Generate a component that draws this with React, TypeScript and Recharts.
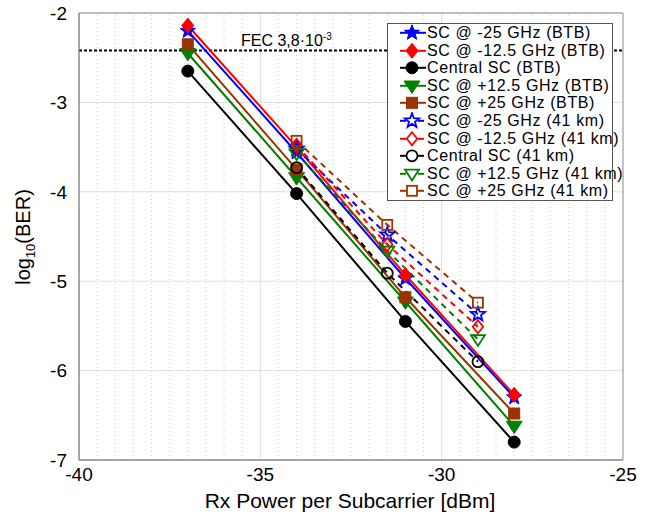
import React from "react";
import {
  LineChart,
  Line,
  XAxis,
  YAxis,
  CartesianGrid,
  ReferenceLine,
  ReferenceArea,
  Legend,
} from "recharts";

// Rx power points (dBm)
const btbPower = [-37, -34, -31, -28];
const kmPower = [-34, -31.5, -29];

// log10(BER), back-to-back
const btbMinus25 = [-2.2, -3.56, -4.97, -6.3];
const btbMinus125 = [-2.14, -3.5, -4.93, -6.27];
const btbCentral = [-2.65, -4.02, -5.45, -6.8];
const btbPlus125 = [-2.45, -3.84, -5.23, -6.62];
const btbPlus25 = [-2.35, -3.75, -5.18, -6.48];

// log10(BER), after 41 km
const kmMinus25 = [-3.52, -4.48, -5.37];
const kmMinus125 = [-3.48, -4.59, -5.51];
const kmCentral = [-3.73, -4.91, -5.9];
const kmPlus125 = [-3.57, -4.66, -5.65];
const kmPlus25 = [-3.43, -4.37, -5.24];

const xTicks = [-40, -35, -30, -25];
const yTicks = [-7, -6, -5, -4, -3, -2];
const minorX = [
  -39.5, -39, -38.5, -38, -37.5, -37, -36.5, -36, -35.5, -34.5, -34, -33.5,
  -33, -32.5, -32, -31.5, -31, -30.5, -29.5, -29, -28.5, -28, -27.5, -27,
  -26.5, -26, -25.5,
];
const fecLevel = Math.log10(3.8e-3);

const BLUE = "#0000ff";
const RED = "#ff0000";
const BLACK = "#000000";
const GREEN = "#008000";
const BROWN = "#993300";

type Shape = "star" | "diamond" | "circle" | "triangle" | "square";

const pts = (xs: number[], ys: number[]) => xs.map((x, i) => ({ x, y: ys[i] }));

const series = [
  { name: "SC @ -25 GHz (BTB)", color: BLUE, shape: "star" as Shape, dashed: false, data: pts(btbPower, btbMinus25) },
  { name: "SC @ -12.5 GHz (BTB)", color: RED, shape: "diamond" as Shape, dashed: false, data: pts(btbPower, btbMinus125) },
  { name: "Central SC (BTB)", color: BLACK, shape: "circle" as Shape, dashed: false, data: pts(btbPower, btbCentral) },
  { name: "SC @ +12.5 GHz (BTB)", color: GREEN, shape: "triangle" as Shape, dashed: false, data: pts(btbPower, btbPlus125) },
  { name: "SC @ +25 GHz (BTB)", color: BROWN, shape: "square" as Shape, dashed: false, data: pts(btbPower, btbPlus25) },
  { name: "SC @ -25 GHz (41 km)", color: BLUE, shape: "star" as Shape, dashed: true, data: pts(kmPower, kmMinus25) },
  { name: "SC @ -12.5 GHz (41 km)", color: RED, shape: "diamond" as Shape, dashed: true, data: pts(kmPower, kmMinus125) },
  { name: "Central SC (41 km)", color: BLACK, shape: "circle" as Shape, dashed: true, data: pts(kmPower, kmCentral) },
  { name: "SC @ +12.5 GHz (41 km)", color: GREEN, shape: "triangle" as Shape, dashed: true, data: pts(kmPower, kmPlus125) },
  { name: "SC @ +25 GHz (41 km)", color: BROWN, shape: "square" as Shape, dashed: true, data: pts(kmPower, kmPlus25) },
];

const Marker = ({ cx, cy, shape, color, filled }: any) => {
  const fill = filled ? color : "none";
  const sw = filled ? 1 : 1.8;
  if (shape === "circle") {
    const r = filled ? 6 : 5.5;
    return <circle cx={cx} cy={cy} r={r} fill={fill} stroke={color} strokeWidth={sw} />;
  }
  if (shape === "square") {
    const h = filled ? 5.5 : 5;
    return <rect x={cx - h} y={cy - h} width={2 * h} height={2 * h} fill={fill} stroke={color} strokeWidth={sw} />;
  }
  if (shape === "diamond") {
    const r = filled ? 7.5 : 6.5;
    const p = `${cx},${cy - r} ${cx + r * 0.8},${cy} ${cx},${cy + r} ${cx - r * 0.8},${cy}`;
    return <polygon points={p} fill={fill} stroke={color} strokeWidth={sw} />;
  }
  if (shape === "triangle") {
    const r = filled ? 8 : 7;
    const p = `${cx - r},${cy - r * 0.6} ${cx + r},${cy - r * 0.6} ${cx},${cy + r * 0.95}`;
    return <polygon points={p} fill={fill} stroke={color} strokeWidth={sw} />;
  }
  const R = filled ? 8 : 7.5;
  const p: string[] = [];
  for (let i = 0; i < 10; i++) {
    const a = (-90 + i * 36) * (Math.PI / 180);
    const rr = i % 2 === 0 ? R : R * 0.42;
    p.push(`${cx + rr * Math.cos(a)},${cy + rr * Math.sin(a)}`);
  }
  return <polygon points={p.join(" ")} fill={fill} stroke={color} strokeWidth={sw} />;
};

const renderLegend = () => (
  <div
    style={{
      border: "1px solid #555",
      background: "#fff",
      width: 226,
      boxSizing: "border-box",
      fontFamily: "'Liberation Sans', Arial, sans-serif",
      fontSize: 16,
      letterSpacing: 0.6,
      color: "#000",
    }}
  >
    {series.map((s) => (
      <div key={s.name} style={{ display: "flex", alignItems: "center", height: 17.6 }}>
        <svg width={39} height={17.6} style={{ flex: "none" }}>
          {s.dashed ? (
            <>
              <line x1={12} y1={8.8} x2={18} y2={8.8} stroke={s.color} strokeWidth={2} />
              <line x1={30} y1={8.8} x2={36} y2={8.8} stroke={s.color} strokeWidth={2} />
            </>
          ) : (
            <line x1={12} y1={8.8} x2={38} y2={8.8} stroke={s.color} strokeWidth={2} />
          )}
          <Marker cx={24} cy={8.8} shape={s.shape} color={s.color} filled={!s.dashed} />
        </svg>
        <span style={{ whiteSpace: "nowrap", lineHeight: "17.6px" }}>{s.name}</span>
      </div>
    ))}
  </div>
);

const FecLabel = ({ viewBox }: any) => (
  <text
    x={viewBox.x + 162}
    y={viewBox.y - 5}
    fontSize={16}
    fontFamily="'Liberation Sans Narrow', 'Liberation Sans', Arial, sans-serif"
    fill="#000"
  >
    FEC 3,8·10
    <tspan dy={-6} fontSize={10}>
      -3
    </tspan>
  </text>
);

export default function App() {
  const font = "'Liberation Sans', Arial, sans-serif";
  return (
    <div style={{ position: "absolute", left: 0, top: 0, width: 663, height: 514, background: "#fff" }}>
      <LineChart width={663} height={514} margin={{ top: 13, right: 40, bottom: 24, left: 29 }}>
        <CartesianGrid stroke="#dddddd" strokeWidth={1} horizontalValues={yTicks} verticalValues={[-35, -30]} />
        {minorX.map((v) => (
          <ReferenceLine key={v} x={v} stroke="#cfcfcf" strokeDasharray="1 3" strokeWidth={1} />
        ))}
        <XAxis
          dataKey="x"
          type="number"
          domain={[-40, -25]}
          ticks={xTicks}
          allowDataOverflow
          height={30}
          tickLine={false}
          axisLine={{ stroke: "#8a8a8a" }}
          tickMargin={2}
          tick={{ fontSize: 19, fill: "#000", fontFamily: font }}
        />
        <YAxis
          type="number"
          domain={[-7, -2]}
          ticks={yTicks}
          allowDataOverflow
          width={50}
          tickLine={false}
          axisLine={{ stroke: "#8a8a8a" }}
          tickMargin={6}
          tick={{ fontSize: 19, fill: "#000", fontFamily: font }}
        />
        <ReferenceArea x1={-40} x2={-25} y1={-7} y2={-2} fill="none" stroke="#8a8a8a" strokeWidth={1} />
        <ReferenceLine
          y={fecLevel}
          stroke="#000"
          strokeWidth={2}
          strokeDasharray="3 2"
          label={<FecLabel />}
        />
        {series.map((s) => (
          <Line
            key={s.name}
            data={s.data}
            dataKey="y"
            name={s.name}
            stroke={s.color}
            strokeWidth={2}
            strokeDasharray={s.dashed ? "6 5" : undefined}
            isAnimationActive={false}
            dot={(p: any) => (
              <Marker key={`${s.name}-${p.index}`} cx={p.cx} cy={p.cy} shape={s.shape} color={s.color} filled={!s.dashed} />
            )}
            activeDot={false}
          />
        ))}
        <Legend
          layout="vertical"
          align="center"
          verticalAlign="middle"
          wrapperStyle={{ left: 387, top: 23, width: 226 }}
          content={renderLegend}
        />
        <text x={350} y={508} textAnchor="middle" fontSize={21} fontFamily={font} fill="#000">
          Rx Power per Subcarrier [dBm]
        </text>
        <text
          x={30}
          y={237}
          textAnchor="middle"
          fontSize={20}
          fontFamily={font}
          fill="#000"
          transform="rotate(-90 30 237)"
        >
          log
          <tspan fontSize={13} dy={5}>
            10
          </tspan>
          <tspan dy={-5}>(BER)</tspan>
        </text>
      </LineChart>
    </div>
  );
}
